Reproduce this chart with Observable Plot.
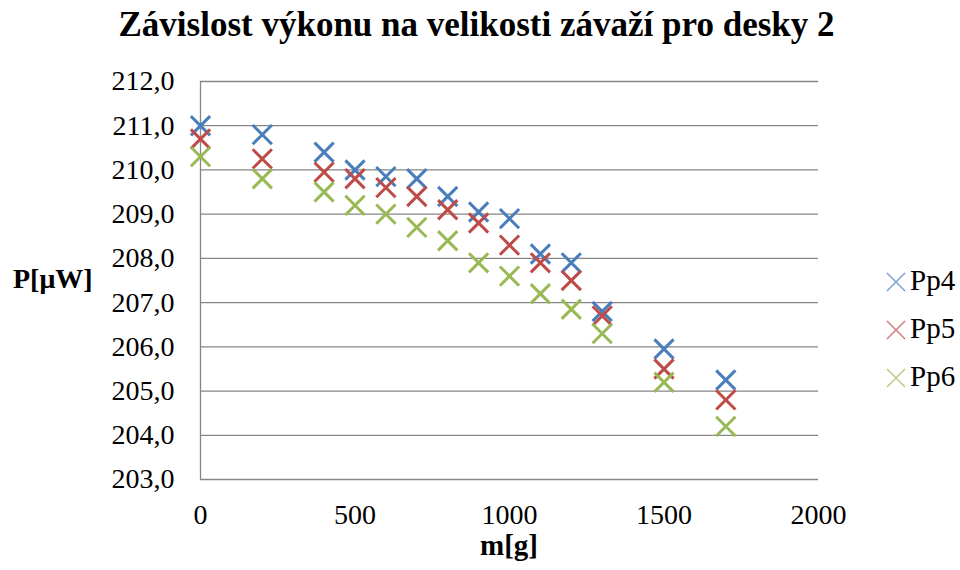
<!DOCTYPE html>
<html>
<head>
<meta charset="utf-8">
<script src="https://cdn.jsdelivr.net/npm/d3@7"></script>
<script src="https://cdn.jsdelivr.net/npm/@observablehq/plot@0.6"></script>
<style>
  body { margin: 0; background: #fff; }
  #wrap { position: relative; width: 960px; height: 570px; font-family: "Liberation Serif", serif; color: #000; }
  #title { position: absolute; left: 0; top: 7px; width: 953px; line-height: 1; text-align: center; font-weight: bold; font-size: 35px; font-family: "Liberation Serif", serif; white-space: nowrap; }
  #chart { position: absolute; left: 0; top: 62px; }
  #chart svg, #chart svg text { font-family: "Liberation Serif", serif !important; }
  .axlabel { position: absolute; font-weight: bold; font-size: 28px; line-height: 1; white-space: nowrap; font-family: "Liberation Serif", serif; }
  .legrow { position: absolute; left: 886px; font-size: 29px; line-height: 1; white-space: nowrap; font-family: "Liberation Serif", serif; }
  .legrow svg { position: absolute; left: 0; }
  .legrow span { position: absolute; left: 24px; top: 0; }
</style>
</head>
<body>
<div id="wrap">
  <div id="title">Závislost výkonu na velikosti závaží pro desky 2</div>
  <div id="chart"></div>
  <div class="axlabel" id="ylab" style="left:13px; top:265px;">P[μW]</div>
  <div class="axlabel" id="xlab" style="left:480px; top:534px; font-size:29px; line-height:0.8;">m[g]</div>
  <div id="legend"></div>
</div>
<script>
const masses = [0, 200, 400, 500, 600, 700, 800, 900, 1000, 1100, 1200, 1300, 1500, 1700];
const pp4 = [211.0, 210.8, 210.4, 210.0, 209.85, 209.8, 209.4, 209.05, 208.9, 208.1, 207.9, 206.8, 205.95, 205.25];
const pp5 = [210.7, 210.25, 209.95, 209.8, 209.6, 209.4, 209.1, 208.8, 208.3, 207.9, 207.5, 206.7, 205.5, 204.8];
const pp6 = [210.3, 209.8, 209.5, 209.2, 209.0, 208.7, 208.4, 207.9, 207.6, 207.2, 206.85, 206.3, 205.2, 204.2];
const seriesNames = ["Pp4", "Pp5", "Pp6"];
const seriesColors = ["#4A7EBB", "#BE4B48", "#98B954"];
const xTicks = [0, 500, 1000, 1500, 2000];
const yTicks = [203, 204, 205, 206, 207, 208, 209, 210, 211, 212];

const seriesValues = [pp4, pp5, pp6];
const data = [];
seriesNames.forEach((s, i) => masses.forEach((m, j) => data.push({series: s, m, P: seriesValues[i][j]})));

const fmt = d => d.toFixed(1).replace(".", ",");

const chart = Plot.plot({
  width: 960,
  height: 508,
  marginTop: 19,
  marginBottom: 91,
  marginLeft: 200,
  marginRight: 142,
  style: {fontFamily: "Liberation Serif, serif", fontSize: "28px", color: "#000", background: "#fff", overflow: "visible"},
  x: {domain: [0, 2000], ticks: xTicks, tickSize: 0, tickPadding: 25, tickFormat: d => String(d), label: null},
  y: {domain: [203, 212], ticks: yTicks, tickSize: 0, tickPadding: 26, tickFormat: fmt, label: null},
  color: {domain: seriesNames, range: seriesColors},
  marks: [
    Plot.gridY(yTicks, {stroke: "#868686", strokeOpacity: 1, strokeWidth: 1.3}),
    Plot.ruleX([0], {stroke: "#868686", strokeWidth: 1.3}),
    Plot.dot(data, {x: "m", y: "P", stroke: "series", symbol: "times", r: 8.8, strokeWidth: 3})
  ]
});
chart.style.fontFamily = "'Liberation Serif', serif";
document.getElementById("chart").appendChild(chart);

// legend
const legend = document.getElementById("legend");
const legendTops = [266, 314, 362];
seriesNames.forEach((s, i) => {
  const row = document.createElement("div");
  row.className = "legrow";
  row.style.top = legendTops[i] + "px";
  row.innerHTML = `<svg width="20" height="20" viewBox="-10 -10 20 20" style="top:6px"><path d="M-9,-9L9,9M-9,9L9,-9" stroke="${seriesColors[i]}" stroke-width="1.6" stroke-opacity="0.7"/></svg><span>${s}</span>`;
  legend.appendChild(row);
});
</script>
</body>
</html>
